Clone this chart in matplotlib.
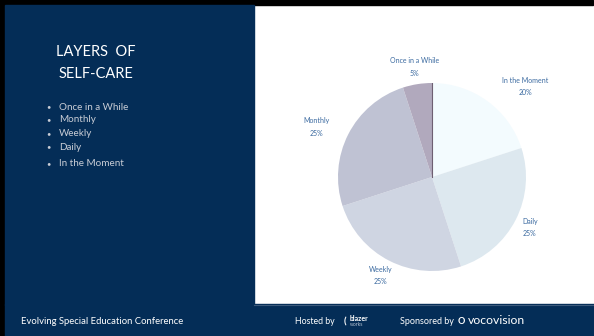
import matplotlib.pyplot as plt
from matplotlib.patches import Rectangle

# data
layers = ['In the Moment', 'Daily', 'Weekly', 'Monthly', 'Once in a While']
shares = [20, 25, 25, 25, 5]
slice_colors = ['#f3fbfe', '#dde8ef', '#cfd5e2', '#bfc2d3', '#b1a9bd']
bullets = ['Once in a While', 'Monthly', 'Weekly', 'Daily', 'In the Moment']
title = 'LAYERS  OF\nSELF-CARE'
footer = 'Evolving Special Education Conference'

NAVY = '#042d57'
W, H = 594, 336

plt.rcParams['font.family'] = ['Lato', 'DejaVu Sans']

fig = plt.figure(figsize=(W / 100, H / 100), dpi=100)

# background in pixel coords
bg = fig.add_axes([0, 0, 1, 1])
bg.set_xlim(0, W)
bg.set_ylim(H, 0)
bg.axis('off')
bg.add_patch(Rectangle((0, 0), W, H, color='white'))
bg.add_patch(Rectangle((0, 0), 593, 5, color='black'))
bg.add_patch(Rectangle((0, 0), 5, H, color='black'))
bg.add_patch(Rectangle((5, 5), 249, 300, color=NAVY))
bg.add_patch(Rectangle((5, 304), W - 5, H - 304, color=NAVY))
bg.plot([254, W], [304.5, 304.5], color='#3d5b7c', lw=0.8)

# left panel text
bg.text(96, 63, title, color='white', fontsize=10.5, ha='center', va='center',
        linespacing=1.75)
ys = [107, 120, 134, 147, 164]
for y, b in zip(ys, bullets):
    bg.text(48, y, '•', color='#c9cdd6', fontsize=5.5, ha='center', va='center')
    bg.text(59, y, b, color='#c9cdd6', fontsize=7.1, ha='left', va='center')

# footer
bg.text(21, 321, footer, color='white', fontsize=6.8, ha='left', va='center')
bg.text(295, 321, 'Hosted by', color='white', fontsize=6.3, ha='left', va='center')
bg.text(345, 321.5, '(', color='white', fontsize=7, ha='center', va='center',
        fontweight='bold')
bg.text(350, 318.3, 'blazer', color='white', fontsize=5, ha='left', va='center',
        fontweight='bold')
bg.text(350, 324.6, 'works', color='#b8c4d4', fontsize=3.6, ha='left', va='center')
bg.text(400, 321, 'Sponsored by', color='white', fontsize=6.5, ha='left', va='center')
bg.text(461.5, 321, 'O', color='white', fontsize=6.5, ha='center', va='center',
        fontweight='bold')
bg.text(468, 321, 'vocovision', color='white', fontsize=8.8, ha='left', va='center')

# pie
cx, cy, r = 432, 177, 94
ax = fig.add_axes([(cx - r) / W, 1 - (cy + r) / H, 2 * r / W, 2 * r / H])
wedges, _ = ax.pie(shares, colors=slice_colors, startangle=90, counterclock=False,
                   radius=1, wedgeprops=dict(linewidth=0))
ax.set_xlim(-1, 1)
ax.set_ylim(-1, 1)
ax.set_aspect('equal')
ax.plot([0, 0], [0, 1], color='#6e5f72', lw=0.8)

label_pos = [(0.99, 0.96), (1.04, -0.54), (-0.55, -1.05), (-1.23, 0.53), (-0.19, 1.17)]
for (lx, ly), name, v in zip(label_pos, layers, shares):
    ax.text(lx, ly, f'{name}\n{v}%', color='#3b6aa0', fontsize=5, ha='center',
            va='center', linespacing=1.9, clip_on=False)

fig.savefig('out.png', dpi=100)
